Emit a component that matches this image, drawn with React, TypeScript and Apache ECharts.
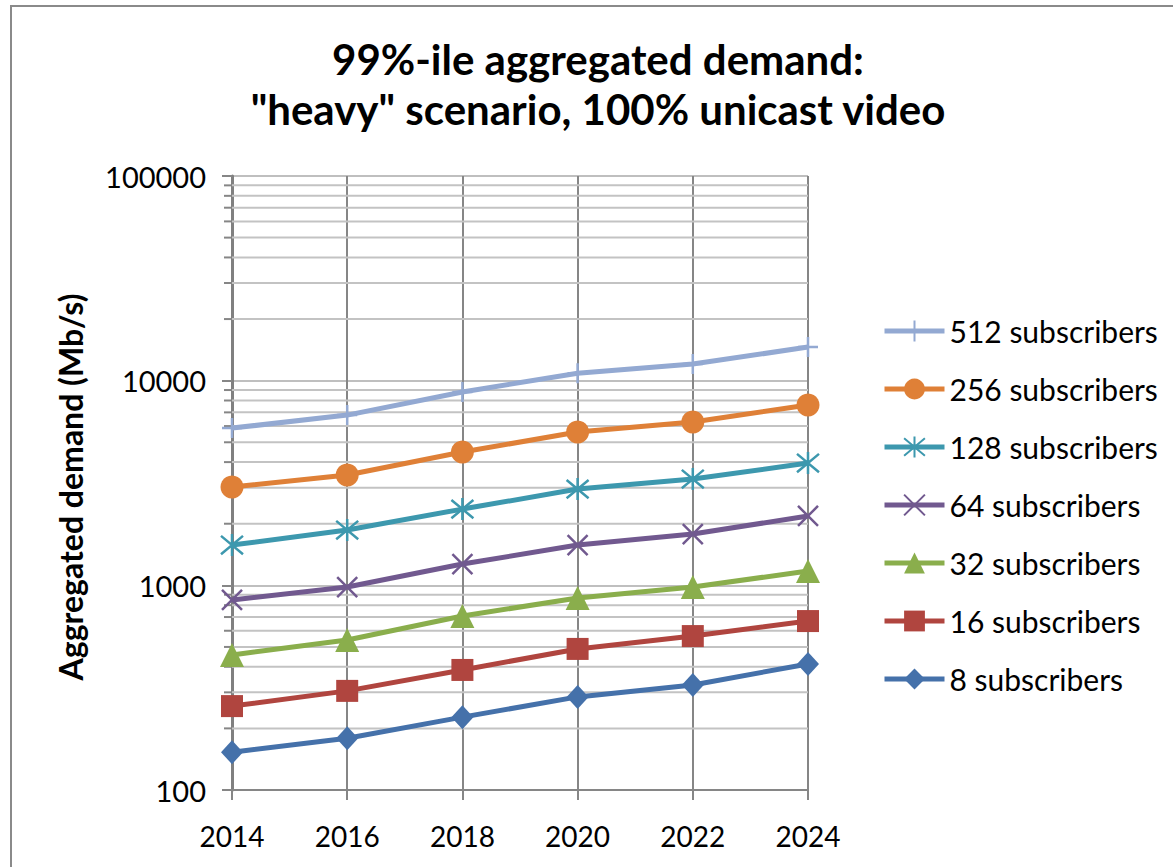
import React, { useEffect, useRef } from 'react';
import * as echarts from 'echarts';

const years = ['2014', '2016', '2018', '2020', '2022', '2024'];
const subs8 = [153, 179, 227, 285, 326, 413];
const subs16 = [257, 305, 386, 489, 565, 669];
const subs32 = [457, 541, 708, 867, 981, 1175];
const subs64 = [848, 981, 1271, 1574, 1781, 2183];
const subs128 = [1574, 1862, 2358, 2953, 3306, 3958];
const subs256 = [3022, 3459, 4481, 5610, 6281, 7600];
const subs512 = [5865, 6788, 8796, 10880, 12050, 14590];
const decades = [100, 1000, 10000];
const minorSteps = [2, 3, 4, 5, 6, 7, 8, 9];

const FONT = 'Lato, "Open Sans", sans-serif';

export default function App() {
  const ref = useRef<HTMLDivElement>(null);
  useEffect(() => {
    const chart = echarts.init(ref.current!, null, { renderer: 'svg' });
    const minorVals: number[][] = [];
    decades.forEach((d) => minorSteps.forEach((m) => minorVals.push([0, d * m])));

    const mk = (name: string, data: number[], color: string, symbol: string, size: any, stroke = false) => ({
      name,
      type: 'line',
      data,
      symbol,
      symbolSize: size,
      z: 3,
      lineStyle: { color, width: 5 },
      itemStyle: stroke
        ? { color, borderColor: color, borderWidth: 2.5 }
        : { color, borderWidth: 0 },
    });

    chart.setOption({
      animation: false,
      backgroundColor: '#ffffff',
      textStyle: { fontFamily: FONT },
      grid: { left: 232, top: 176, width: 576, height: 614, containLabel: false },
      graphic: [
        {
          type: 'rect',
          shape: { x: 11, y: 6, width: 1300, height: 1000 },
          style: { fill: 'none', stroke: '#8a8a8a', lineWidth: 2 },
          silent: true,
        },
        {
          type: 'text',
          x: 598,
          y: 34,
          style: {
            text: '99%-ile aggregated demand:\n"heavy" scenario, 100% unicast video',
            fontFamily: FONT,
            fontWeight: 'bold',
            fontSize: 42,
            lineHeight: 50,
            fill: '#000',
            align: 'center',
            verticalAlign: 'top',
          },
        },
      ],
      legend: {
        orient: 'vertical',
        left: 882,
        top: 316,
        padding: 0,
        itemWidth: 60,
        itemHeight: 26,
        itemGap: 28,
        lineStyle: { width: 5 },
        textStyle: { fontFamily: FONT, fontSize: 30, color: '#000' },
        data: ['512 subscribers', '256 subscribers', '128 subscribers', '64 subscribers', '32 subscribers', '16 subscribers', '8 subscribers'],
      },
      xAxis: {
        type: 'category',
        data: years,
        boundaryGap: false,
        axisLine: { lineStyle: { color: '#868686', width: 2 } },
        axisTick: { show: true, length: 10, lineStyle: { color: '#868686', width: 2 } },
        axisLabel: { color: '#000', fontSize: 28, fontFamily: FONT, margin: 32 },
        splitLine: { show: true, lineStyle: { color: '#868686', width: 2 } },
      },
      yAxis: {
        type: 'log',
        logBase: 10,
        min: 100,
        max: 100000,
        name: 'Aggregated demand (Mb/s)',
        nameLocation: 'middle',
        nameGap: 146,
        nameRotate: 90,
        nameTextStyle: { fontFamily: FONT, fontWeight: 'bold', fontSize: 32, color: '#000', padding: [0, 8, 0, 0] },
        axisLine: { show: true, lineStyle: { color: '#808080', width: 3 } },
        axisTick: { show: true, length: 10, lineStyle: { color: '#868686', width: 2 } },
        axisLabel: { color: '#000', fontSize: 29, fontFamily: FONT, margin: 26, formatter: (v: number) => String(Math.round(v)) },
        splitLine: { show: true, lineStyle: { color: '#bfbfbf', width: 2 } },
      },
      series: [
        {
          name: 'minor',
          type: 'custom',
          data: minorVals,
          encode: { x: 0, y: 1 },
          z: 1,
          silent: true,
          renderItem: (params: any, api: any) => {
            const p = api.coord([0, api.value(1)]);
            const cs = params.coordSys;
            return {
              type: 'group',
              children: [
                {
                  type: 'line',
                  shape: { x1: cs.x, y1: p[1], x2: cs.x + cs.width, y2: p[1] },
                  style: { stroke: '#c3c3c3', lineWidth: 2 },
                },
                {
                  type: 'line',
                  shape: { x1: cs.x - 8, y1: p[1], x2: cs.x, y2: p[1] },
                  style: { stroke: '#868686', lineWidth: 2 },
                },
              ],
            };
          },
        },
        mk('8 subscribers', subs8, '#4571aa', 'diamond', [22, 24]),
        mk('16 subscribers', subs16, '#b0453f', 'rect', 22),
        mk('32 subscribers', subs32, '#8aae4c', 'triangle', 24),
        mk('64 subscribers', subs64, '#71598f', 'path://M0,0 L10,10 M10,0 L0,10', 20, true),
        mk('128 subscribers', subs128, '#3d98ae', 'path://M0,0 L10,10 M10,0 L0,10 M5,-1 L5,11', 22, true),
        mk('256 subscribers', subs256, '#df8037', 'circle', 23),
        mk('512 subscribers', subs512, '#93a9d2', 'path://M5,0 L5,10 M0,5 L10,5', 20, true),
      ],
    });
    return () => chart.dispose();
  }, []);
  return <div ref={ref} style={{ position: 'absolute', left: 0, top: 0, width: 1173, height: 867 }} />;
}
